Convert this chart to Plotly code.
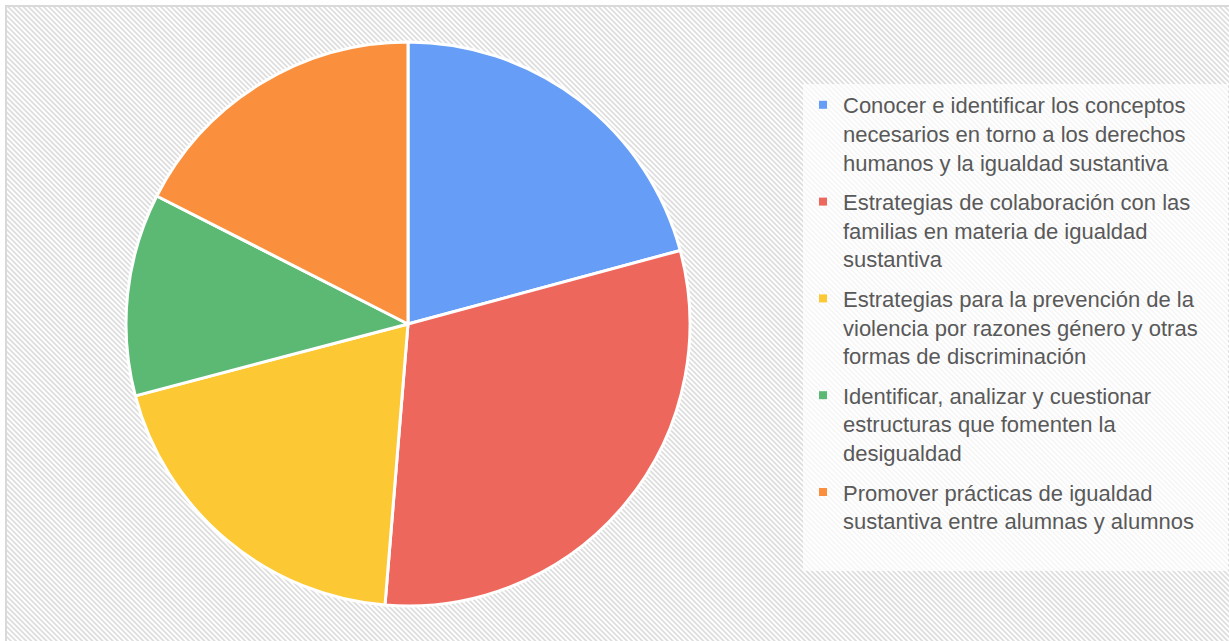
import base64
import plotly.graph_objects as go

W, H = 1229, 641

# slices, clockwise from 12 o'clock
categories = [
    "Conocer e identificar los conceptos<br>necesarios en torno a los derechos<br>humanos y la igualdad sustantiva",
    "Estrategias de colaboración con las<br>familias en materia de igualdad<br>sustantiva",
    "Estrategias para la prevención de la<br>violencia por razones género y otras<br>formas de discriminación",
    "Identificar, analizar y cuestionar<br>estructuras que fomenten la<br>desigualdad",
    "Promover prácticas de igualdad<br>sustantiva entre alumnas y alumnos",
]
values = [20.8, 30.5, 19.6, 11.6, 17.5]
colors = ["#669df6", "#ee675c", "#fcc934", "#5bb974", "#fa903e"]

# diagonal hatch used as chart background
hatch_svg = f'''<svg xmlns="http://www.w3.org/2000/svg" width="{W}" height="{H}">
<defs><pattern id="h" width="3.6" height="3.6" patternUnits="userSpaceOnUse" patternTransform="rotate(-45)">
<rect width="3.6" height="3.6" fill="#ffffff"/><rect width="1.8" height="3.6" fill="#dedede"/></pattern></defs>
<rect width="{W}" height="{H}" fill="url(#h)"/></svg>'''
hatch_uri = "data:image/svg+xml;base64," + base64.b64encode(hatch_svg.encode()).decode()

fig = go.Figure()

# pie centre ~ (408, 324) px, radius ~282 px
cx, cy, r = 408, 324, 282
fig.add_trace(go.Pie(
    labels=categories,
    values=values,
    sort=False,
    direction="clockwise",
    rotation=0,
    marker=dict(colors=colors, line=dict(color="white", width=3)),
    textinfo="none",
    showlegend=False,
    domain=dict(x=[(cx - r) / W, (cx + r) / W], y=[1 - (cy + r) / H, 1 - (cy - r) / H]),
))

# legend entries (one group each so the gap between items can be set);
# the padding widens/lengthens the white legend box like the original
for i, (cat, col) in enumerate(zip(categories, colors)):
    name = cat.replace("otras<br>", "otras\u00a0\u00a0\u00a0\u00a0<br>")
    if i == len(categories) - 1:
        name += "<br>\u00a0"
    fig.add_trace(go.Scatter(
        x=[None], y=[None], mode="markers",
        marker=dict(symbol="square", size=8, color=col),
        name=name, legendgroup=f"g{i}", hoverinfo="skip",
    ))

fig.update_layout(
    width=W, height=H,
    margin=dict(l=0, r=0, t=0, b=0),
    paper_bgcolor="white",
    plot_bgcolor="rgba(0,0,0,0)",
    xaxis=dict(visible=False),
    yaxis=dict(visible=False),
    font=dict(family="Liberation Sans, Arial, sans-serif", color="#595959"),
    legend=dict(
        x=803 / W, y=1 - 84 / H, xanchor="left", yanchor="top",
        bgcolor="rgba(255,255,255,0.72)",
        font=dict(size=22, color="#595959"),
        valign="top",
        tracegroupgap=8,
        traceorder="grouped",
    ),
    images=[dict(
        source=hatch_uri, xref="paper", yref="paper",
        x=7 / W, y=1 - 7 / H, sizex=1, sizey=1,
        xanchor="left", yanchor="top", sizing="stretch", layer="below",
    )],
    # frame only on the left and top edges
    shapes=[
        dict(type="line", xref="paper", yref="paper",
             x0=6 / W, x1=6 / W, y0=0, y1=1 - 5 / H,
             line=dict(color="#d9d9d9", width=2)),
        dict(type="line", xref="paper", yref="paper",
             x0=5 / W, x1=1, y0=1 - 6 / H, y1=1 - 6 / H,
             line=dict(color="#d9d9d9", width=2)),
    ],
)

fig.write_html(
    "out.html",
    config={"displayModeBar": False},
    post_script="document.body.style.margin='0';document.body.style.overflow='hidden';",
)
